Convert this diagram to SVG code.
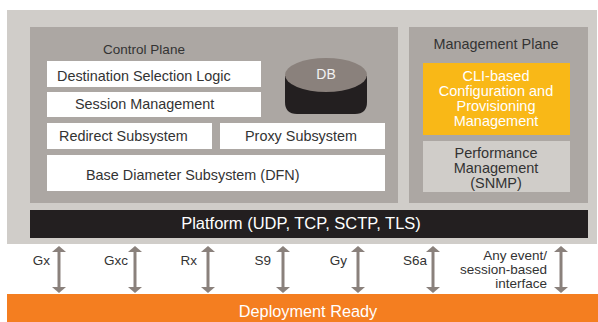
<svg xmlns="http://www.w3.org/2000/svg" width="598" height="322" viewBox="0 0 598 322">
<defs>
<style>
text{font-family:"Liberation Sans",Arial,sans-serif;}
.lbl{font-size:13.5px;fill:#333;}
.box{fill:#fff;}
.dark{font-size:14.4px;fill:#333;}
.wt{fill:#fff;}
.arr{stroke:#8a817c;stroke-width:3;fill:none;marker-start:url(#ah);marker-end:url(#ah);}
</style>
<marker id="ah" viewBox="0 0 6 14" refX="1" refY="7" markerWidth="6" markerHeight="14" markerUnits="userSpaceOnUse" orient="auto-start-reverse">
<path d="M0,0 L6,7 L0,14 Z" fill="#8a817c"/>
</marker>
</defs>
<rect width="598" height="322" fill="#fff"/>
<g id="outer"><rect x="7" y="10" width="590" height="234" fill="#d0cdc9"/></g>
<g id="control-plane">
<rect x="30" y="27" width="368" height="176" fill="#aca7a3"/>
<text x="144" y="54" text-anchor="middle" font-size="13.5" fill="#333">Control Plane</text>
</g>
<g id="dsl"><rect class="box" x="47" y="61" width="214" height="26"/><text x="57" y="81" class="dark">Destination Selection Logic</text></g>
<g id="session"><rect class="box" x="47" y="92" width="214" height="25"/><text x="75" y="109" class="dark">Session Management</text></g>
<g id="redirect"><rect class="box" x="47" y="123" width="165" height="26"/><text x="59" y="141" class="dark">Redirect Subsystem</text></g>
<g id="proxy"><rect class="box" x="220" y="123" width="165" height="26"/><text x="245" y="141" class="dark">Proxy Subsystem</text></g>
<g id="base"><rect class="box" x="47" y="155" width="338" height="36"/><text x="86" y="180" class="dark">Base Diameter Subsystem (DFN)</text></g>
<g id="db">
<path d="M285,76 L285,102 Q285,114 297,114 L355,114 Q367,114 367,102 L367,76 Z" fill="#231f20"/>
<ellipse cx="326" cy="75" rx="41" ry="17" fill="#8a817c"/>
<text x="326" y="79" text-anchor="middle" font-size="14" fill="#f2f2f2">DB</text>
</g>
<g id="mgmt-plane">
<rect x="409" y="27" width="179" height="176" fill="#aca7a3"/>
<text x="496" y="49" text-anchor="middle" class="dark">Management Plane</text>
</g>
<g id="cli">
<rect x="423" y="63" width="147" height="72" fill="#f9b817"/>
<text text-anchor="middle" font-size="14.5" class="wt"><tspan x="496" y="81">CLI-based</tspan><tspan x="496" y="96">Configuration and</tspan><tspan x="496" y="111">Provisioning</tspan><tspan x="496" y="126">Management</tspan></text>
</g>
<g id="perf">
<rect x="423" y="141" width="147" height="51" fill="#d0cdc9"/>
<text text-anchor="middle" font-size="14.5" fill="#333"><tspan x="496" y="158">Performance</tspan><tspan x="496" y="173">Management</tspan><tspan x="496" y="188">(SNMP)</tspan></text>
</g>
<g id="platform">
<rect x="30" y="210" width="558" height="28" fill="#231f20"/>
<text x="301" y="229" text-anchor="middle" font-size="16.5" class="wt">Platform (UDP, TCP, SCTP, TLS)</text>
</g>
<g id="deployment">
<rect x="7" y="294" width="591" height="28" fill="#f47e20"/>
<text x="308" y="317" text-anchor="middle" font-size="16.3" class="wt">Deployment Ready</text>
</g>
<g id="connectors">
<line class="arr" x1="59" y1="251" x2="59" y2="288"/>
<line class="arr" x1="135" y1="251" x2="135" y2="288"/>
<line class="arr" x1="208" y1="251" x2="208" y2="288"/>
<line class="arr" x1="283" y1="251" x2="283" y2="288"/>
<line class="arr" x1="358" y1="251" x2="358" y2="288"/>
<line class="arr" x1="433" y1="251" x2="433" y2="288"/>
<line class="arr" x1="561" y1="251" x2="561" y2="288"/>
</g>
<g id="labels" text-anchor="end">
<text x="50" y="265" class="lbl">Gx</text>
<text x="128" y="265" class="lbl">Gxc</text>
<text x="197" y="265" class="lbl">Rx</text>
<text x="271" y="265" class="lbl">S9</text>
<text x="347" y="265" class="lbl">Gy</text>
<text x="427" y="265" class="lbl">S6a</text>
<text class="lbl" font-size="14"><tspan x="547" y="260">Any event/</tspan><tspan x="547" y="274">session-based</tspan><tspan x="547" y="288">interface</tspan></text>
</g>
</svg>
